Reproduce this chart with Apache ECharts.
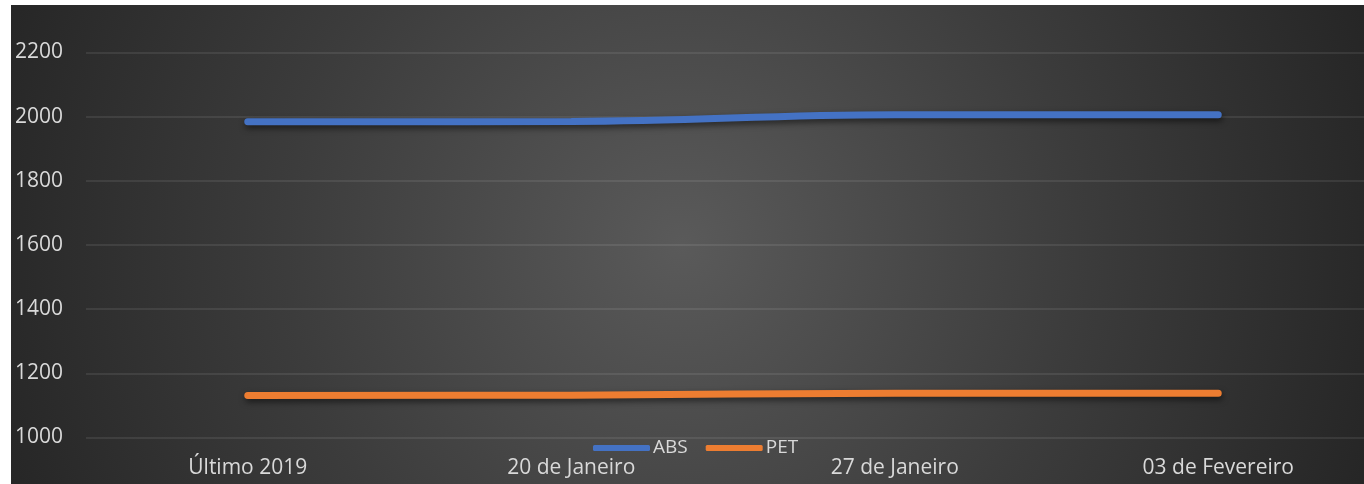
<!DOCTYPE html>
<html>
<head>
<meta charset="utf-8">
<script src="https://cdn.jsdelivr.net/npm/echarts@6/dist/echarts.min.js"></script>
<style>
html,body{margin:0;padding:0;background:#ffffff;width:1364px;height:484px;overflow:hidden;position:relative;}
#chart{position:absolute;left:11px;top:5px;width:1369px;height:479px;}
</style>
</head>
<body>
<div id="chart"></div>
<script>
const categories = ['Último 2019', '20 de Janeiro', '27 de Janeiro', '03 de Fevereiro'];
const absValues = [1984, 1985, 2006, 2006];
const petValues = [1131, 1132, 1138, 1138];
const yTicks = [1000, 1200, 1400, 1600, 1800, 2000, 2200];

const chart = echarts.init(document.getElementById('chart'));
const font = '"Open Sans", "Noto Sans", sans-serif';
const lineShadow = {shadowColor: 'rgba(0,0,0,0.55)', shadowBlur: 6, shadowOffsetY: 3, shadowOffsetX: 1};

chart.setOption({
  animation: false,
  backgroundColor: {
    type: 'radial', x: 0.49, y: 0.5, r: 1.5,
    colorStops: [
      {offset: 0, color: '#5a5a5a'},
      {offset: 0.55, color: '#3c3c3c'},
      {offset: 1, color: '#262626'}
    ]
  },
  grid: {left: 75, right: 0, top: 47.5, bottom: 46.5, containLabel: false},
  legend: {
    data: ['ABS', 'PET'],
    left: 582, top: 433, padding: 0,
    icon: 'roundRect', itemWidth: 57, itemHeight: 6, itemGap: 18,
    textStyle: {color: '#d9d9d9', fontSize: 19, fontFamily: font, lineHeight: 20, padding: [0, 0, 0, -2]}
  },
  xAxis: {
    type: 'category',
    data: categories,
    boundaryGap: true,
    axisLine: {show: false},
    axisTick: {show: false},
    axisLabel: {color: '#d9d9d9', fontSize: 21, fontFamily: font, lineHeight: 21, margin: 20}
  },
  yAxis: {
    type: 'value',
    min: yTicks[0], max: yTicks[yTicks.length - 1], interval: 200,
    axisLine: {show: false},
    axisTick: {show: false},
    axisLabel: {color: '#d9d9d9', fontSize: 21, fontFamily: font, align: 'left', margin: 71,
      formatter: function (v) { return String(v); }},
    splitLine: {lineStyle: {color: 'rgba(255,255,255,0.11)', width: 1.5}}
  },
  series: [
    {
      name: 'ABS', type: 'line', data: absValues, smooth: 0.4, showSymbol: false, symbol: 'none',
      itemStyle: {color: '#4472C4'},
      lineStyle: Object.assign({color: '#4472C4', width: 7, cap: 'round'}, lineShadow)
    },
    {
      name: 'PET', type: 'line', data: petValues, smooth: 0.4, showSymbol: false, symbol: 'none',
      itemStyle: {color: '#ED7D31'},
      lineStyle: Object.assign({color: '#ED7D31', width: 7, cap: 'round'}, lineShadow)
    }
  ]
});
</script>
</body>
</html>
